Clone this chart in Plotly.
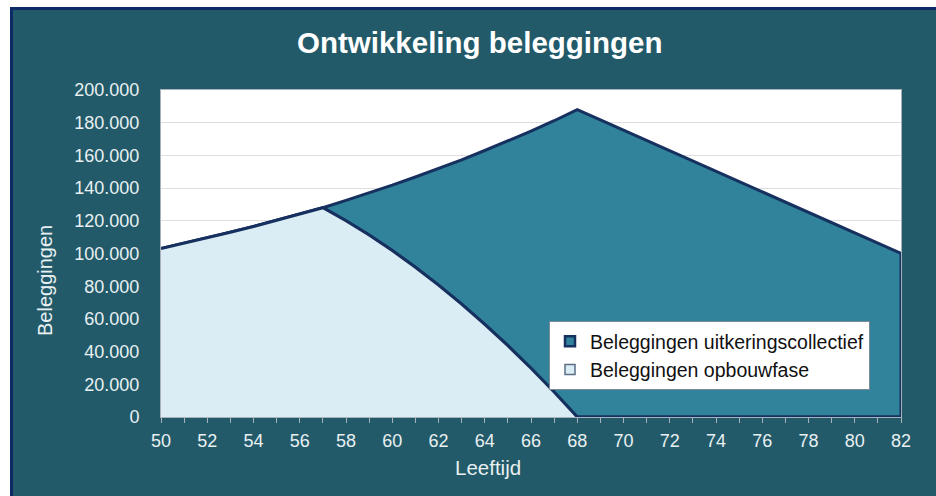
import plotly.graph_objects as go

ages = list(range(50, 83))
totaal = [103000, 106200, 109500, 113000, 116500, 120200, 124000, 128000,
          132500, 137000, 141800, 146800, 152000, 157300, 163000, 168800,
          174800, 181200, 188000, 181700, 175400, 169100, 162900, 156600,
          150300, 144000, 137700, 131400, 125100, 118900, 112600, 106300, 100000]
opbouw = [103000, 106200, 109500, 113000, 116500, 120200, 124000, 128000,
          120000, 111300, 101800, 91600, 80700, 69100, 56700, 43600,
          29800, 15300, 0, 0, 0, 0, 0, 0,
          0, 0, 0, 0, 0, 0, 0, 0, 0]
x_ticks = list(range(50, 83, 2))
series_names = ["Beleggingen uitkeringscollectief", "Beleggingen opbouwfase"]

BG = "#225a69"
TEAL = "#30839a"
LIGHT = "#dbedf4"
NAVY = "#16315f"
BORDER = "#0b2a66"
TXT = "#e8f0f2"
FONT = "Liberation Sans, Arial, sans-serif"

W, H = 936, 496
L, R, T, B = 161, 901, 90, 417

fig = go.Figure()

# Uitkeringscollectief: polygon between total (top) and opbouw (bottom)
fig.add_trace(go.Scatter(
    x=ages + ages[::-1],
    y=totaal + opbouw[::-1],
    fill="toself", fillcolor=TEAL, mode="lines",
    line=dict(color=NAVY, width=3),
    name=series_names[0], showlegend=False, hoverinfo="skip",
))
fig.add_trace(go.Scatter(
    x=ages, y=opbouw, fill="tozeroy", fillcolor=LIGHT, mode="lines",
    line=dict(color=NAVY, width=3),
    name=series_names[1], showlegend=False,
))
# legend entries (square swatches)
fig.add_trace(go.Scatter(
    x=[None], y=[None], mode="markers", name=series_names[0],
    marker=dict(symbol="square", size=10, color=TEAL, line=dict(color=NAVY, width=2.5)),
))
fig.add_trace(go.Scatter(
    x=[None], y=[None], mode="markers", name=series_names[1],
    marker=dict(symbol="square", size=10, color=LIGHT, line=dict(color="#5a6f86", width=1.5)),
))


def px_x(p):
    return (p - L) / (R - L)


def px_y(p):
    return (B - p) / (B - T)


# white corner margins + navy frame edges
fig.add_shape(type="rect", xref="paper", yref="paper", layer="above",
              x0=px_x(-5), x1=px_x(10), y0=px_y(500), y1=px_y(-5),
              fillcolor="white", line=dict(width=0))
fig.add_shape(type="rect", xref="paper", yref="paper", layer="above",
              x0=px_x(-5), x1=px_x(940), y0=px_y(7), y1=px_y(-5),
              fillcolor="white", line=dict(width=0))
fig.add_shape(type="line", xref="paper", yref="paper", layer="above",
              x0=px_x(11.5), x1=px_x(11.5), y0=px_y(500), y1=px_y(7),
              line=dict(color=BORDER, width=3))
fig.add_shape(type="line", xref="paper", yref="paper", layer="above",
              x0=px_x(10), x1=px_x(940), y0=px_y(8.5), y1=px_y(8.5),
              line=dict(color=BORDER, width=3))

fig.add_annotation(text="<b>Ontwikkeling beleggingen</b>", xref="paper", yref="paper",
                   x=px_x(480), y=px_y(43), xanchor="center", yanchor="middle",
                   showarrow=False, font=dict(family=FONT, size=29.5, color="white"))
fig.add_annotation(text="Leeftijd", xref="paper", yref="paper",
                   x=px_x(488), y=px_y(467), xanchor="center", yanchor="middle",
                   showarrow=False, font=dict(family=FONT, size=20.5, color=TXT))
fig.add_annotation(text="Beleggingen", xref="paper", yref="paper", textangle=-90,
                   x=px_x(45), y=px_y(281), xanchor="center", yanchor="middle",
                   showarrow=False, font=dict(family=FONT, size=20, color=TXT))

fig.update_layout(
    width=W, height=H,
    margin=dict(l=L, r=W - R, t=T, b=H - B),
    paper_bgcolor=BG, plot_bgcolor="white",
    separators=",.",
    showlegend=True,
    legend=dict(x=px_x(549), y=px_y(321), xanchor="left", yanchor="top",
                bgcolor="white", bordercolor="#7d8a96", borderwidth=1,
                font=dict(family=FONT, size=19.5, color="#111111"),
                traceorder="normal", itemwidth=30),
    xaxis=dict(range=[50, 82], tickvals=x_ticks, ticks="outside", ticklen=5,
               tickcolor="#a8b2bc", showgrid=False, zeroline=False,
               showline=True, linecolor="#a8b2bc", linewidth=1, mirror=True,
               minor=dict(dtick=1, ticks="outside", ticklen=5, tickcolor="#a8b2bc"),
               ticklabelstandoff=2,
               tickfont=dict(family=FONT, size=18, color=TXT)),
    yaxis=dict(range=[0, 200000], dtick=20000, tickformat=",.0f",
               showgrid=True, gridcolor="#dedede", gridwidth=1, zeroline=False,
               showline=True, linecolor="#a8b2bc", linewidth=1, mirror=True,
               ticks="", ticklabelstandoff=17,
               tickfont=dict(family=FONT, size=18, color=TXT)),
)

fig.write_html("out.html", config={"displayModeBar": False},
               post_script="document.body.style.margin='0px';")
